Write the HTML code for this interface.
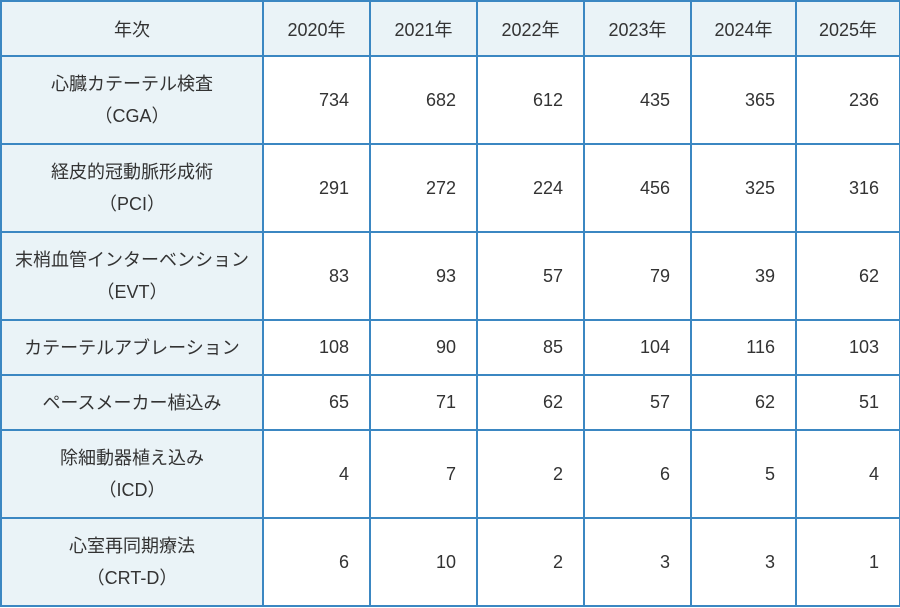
<!DOCTYPE html>
<html><head><meta charset="utf-8">
<style>
html,body{margin:0;padding:0;background:#fff;}
body{width:900px;height:608px;overflow:hidden;}
table{border-collapse:collapse;table-layout:fixed;position:absolute;left:0;top:0;width:899px;
font-family:"Liberation Sans","Noto Sans CJK JP",sans-serif;font-size:18px;color:#333;}
td,th{border:2px solid #3b87c2;padding:0;font-weight:normal;}
th{background:#eaf3f7;text-align:center;height:53px;}
td.l{background:#eaf3f7;text-align:center;line-height:32px;}
td.n{text-align:right;padding-right:20px;background:#fff;}
tr.t td{height:86px;}
tr.s td{height:53px;}
</style></head><body>
<table>
<colgroup><col style="width:262px"><col style="width:107px"><col style="width:107px"><col style="width:107px"><col style="width:107px"><col style="width:105px"><col style="width:104px"></colgroup>
<tr><th>年次</th><th>2020年</th><th>2021年</th><th>2022年</th><th>2023年</th><th>2024年</th><th>2025年</th></tr>
<tr class="t"><td class="l">心臓カテーテル検査<br>（CGA）</td><td class="n">734</td><td class="n">682</td><td class="n">612</td><td class="n">435</td><td class="n">365</td><td class="n">236</td></tr>
<tr class="t"><td class="l">経皮的冠動脈形成術<br>（PCI）</td><td class="n">291</td><td class="n">272</td><td class="n">224</td><td class="n">456</td><td class="n">325</td><td class="n">316</td></tr>
<tr class="t"><td class="l">末梢血管インターベンション<br>（EVT）</td><td class="n">83</td><td class="n">93</td><td class="n">57</td><td class="n">79</td><td class="n">39</td><td class="n">62</td></tr>
<tr class="s"><td class="l">カテーテルアブレーション</td><td class="n">108</td><td class="n">90</td><td class="n">85</td><td class="n">104</td><td class="n">116</td><td class="n">103</td></tr>
<tr class="s"><td class="l">ペースメーカー植込み</td><td class="n">65</td><td class="n">71</td><td class="n">62</td><td class="n">57</td><td class="n">62</td><td class="n">51</td></tr>
<tr class="t"><td class="l">除細動器植え込み<br>（ICD）</td><td class="n">4</td><td class="n">7</td><td class="n">2</td><td class="n">6</td><td class="n">5</td><td class="n">4</td></tr>
<tr class="t"><td class="l">心室再同期療法<br>（CRT-D）</td><td class="n">6</td><td class="n">10</td><td class="n">2</td><td class="n">3</td><td class="n">3</td><td class="n">1</td></tr>
</table>
</body></html>
